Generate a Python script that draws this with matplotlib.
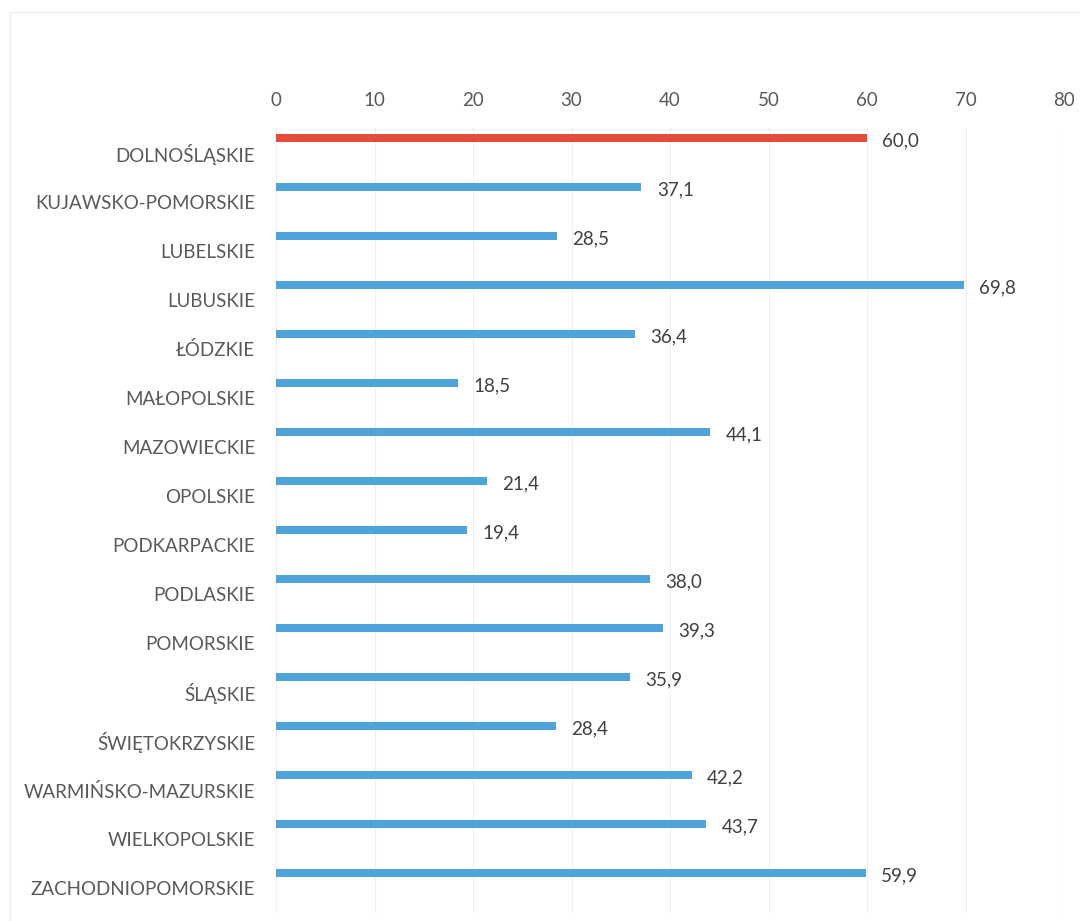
import matplotlib
matplotlib.use("Agg")
import matplotlib.pyplot as plt
from matplotlib.patches import Rectangle

regions = ["DOLNOŚLĄSKIE", "KUJAWSKO-POMORSKIE", "LUBELSKIE", "LUBUSKIE", "ŁÓDZKIE",
           "MAŁOPOLSKIE", "MAZOWIECKIE", "OPOLSKIE", "PODKARPACKIE", "PODLASKIE",
           "POMORSKIE", "ŚLĄSKIE", "ŚWIĘTOKRZYSKIE", "WARMIŃSKO-MAZURSKIE",
           "WIELKOPOLSKIE", "ZACHODNIOPOMORSKIE"]
values = [60.0, 37.1, 28.5, 69.8, 36.4, 18.5, 44.1, 21.4, 19.4, 38.0, 39.3, 35.9,
          28.4, 42.2, 43.7, 59.9]
highlight = "DOLNOŚLĄSKIE"
xticks = [0, 10, 20, 30, 40, 50, 60, 70, 80]

plt.rcParams['font.family'] = ['Lato', 'DejaVu Sans']

fig = plt.figure(figsize=(10.8, 9.21), dpi=100)
fig.patches.append(Rectangle((0.009, -0.01), 1.0, 0.997, transform=fig.transFigure,
                             fill=False, edgecolor='#ececec', linewidth=1))
ax = fig.add_axes([0.2556, 0.0092, 0.7296, 0.8513])

pos = list(range(len(regions)))
bar_pos = [p - 0.3 for p in pos]
colors = ['#E84B3C' if r == highlight else '#4DA3DA' for r in regions]
ax.barh(bar_pos, values, height=0.16, color=colors, zorder=3)

for bp, v in zip(bar_pos, values):
    ax.annotate(f"{v:.1f}".replace('.', ','), (v, bp), xytext=(11, -2),
                textcoords='offset points', va='center', ha='left',
                fontsize=13.5, color='#404040')

ax.set_xlim(0, 80)
ax.set_ylim(len(regions) - 0.5, -0.5)
ax.set_xticks(xticks)
ax.xaxis.tick_top()
ax.tick_params(axis='x', length=0, pad=14, labelsize=13.5, labelcolor='#595959')
ax.set_yticks(pos)
ax.set_yticklabels(regions)
ax.tick_params(axis='y', length=0, pad=15, labelsize=13.5, labelcolor='#595959')
ax.grid(axis='x', color='#eeeeee', linewidth=0.8, zorder=0)
for s in ax.spines.values():
    s.set_visible(False)

fig.savefig("out.png", dpi=100)
